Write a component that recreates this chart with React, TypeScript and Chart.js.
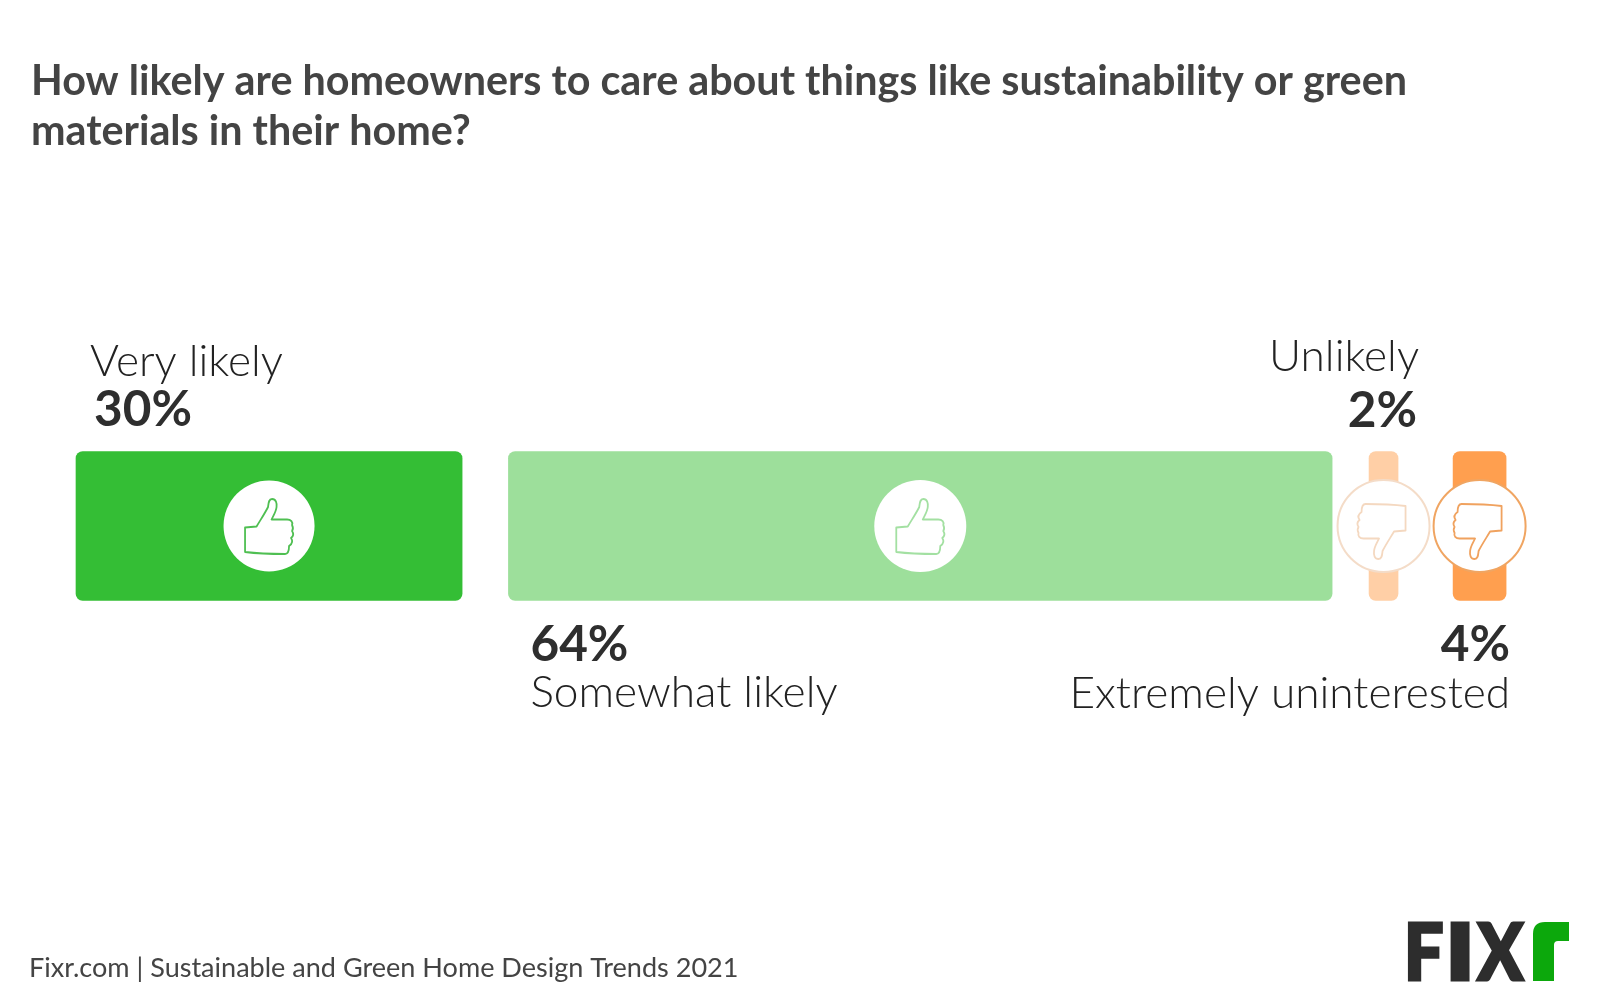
import React, { useEffect, useRef } from "react";
import { Chart, registerables } from "chart.js";

Chart.register(...registerables);

const titleLines = [
  "How likely are homeowners to care about things like sustainability or green",
  "materials in their home?",
];
const categories = ["Very likely", "Somewhat likely", "Unlikely", "Extremely uninterested"];
const values = [30, 64, 2, 4];
const gapsBefore = [0, 3.6, 2.87, 4.53];
const barColors = ["#34BE35", "#9DDF9B", "#FFCFA6", "#FF9F4F"];
const minLengths = [0, 0, 29, 53];
const iconColors = ["#4FBF52", "#A3E0A2", "#F4D8C0", "#F0A25F"];
const ringColors = [null, null, "#F4DCC8", "#F0A562"];
const footer = "Fixr.com | Sustainable and Green Home Design Trends 2021";
const logoLetters: [string, number, number][] = [
  ["F", 1407, 1443],
  ["I", 1450, 1470],
  ["X", 1475, 1525],
];

const FONT = "Lato, sans-serif";
const INK = "#2E2E2E";

const thumb =
  "M-24 1.5 L-12.5 0.5 C-8 -7 -4 -13 -1 -19 C-0.5 -23 -0.5 -27 3 -27 C7 -27 8 -23 7.5 -19 C7 -14 4 -10 2.5 -6.5 L18 -6.5 C22 -6.5 24 -4 23 -1 C24 1 24.5 3 23 5 C25 8 24.5 10 22 12 C24 15 23 18 20 20 C20 24 19 28 16 28 C5 28 -12 27.5 -24 26 Z";

const spans: [number, number][] = [];
values.forEach((v, i) => {
  const start = (i === 0 ? 0 : spans[i - 1][1]) + gapsBefore[i];
  spans.push([start, start + v]);
});

const overlay = {
  id: "overlay",
  afterDatasetsDraw(chart: any) {
    const ctx = chart.ctx as CanvasRenderingContext2D;
    const text = (s: string, x: number, y: number, font: string, color: string, align: CanvasTextAlign = "left") => {
      ctx.font = font;
      ctx.fillStyle = color;
      ctx.textAlign = align;
      ctx.textBaseline = "alphabetic";
      ctx.fillText(s, x, y);
    };
    ctx.save();
    // title and footer
    text(titleLines[0], 31, 94.5, `700 41.3px ${FONT}`, "#444444");
    text(titleLines[1], 31, 144.5, `700 41.3px ${FONT}`, "#444444");
    text(footer, 29, 977, `400 27.05px ${FONT}`, "#444444");

    // medallions
    const bars = values.map((_, i) => chart.getDatasetMeta(i).data[0]);
    bars.forEach((b: any, i: number) => {
      const cx = (b.x + b.base) / 2;
      const cy = b.y;
      ctx.beginPath();
      ctx.arc(cx, cy, i === 0 ? 45.5 : 46, 0, Math.PI * 2);
      ctx.fillStyle = "#FFFFFF";
      ctx.fill();
      const ring = ringColors[i];
      if (ring) {
        ctx.strokeStyle = ring;
        ctx.lineWidth = 2;
        ctx.stroke();
      }
      ctx.save();
      ctx.translate(cx - (i >= 2 ? 2 : 0), cy + (i >= 2 ? 6 : 0));
      if (i >= 2) ctx.rotate(Math.PI);
      ctx.strokeStyle = iconColors[i];
      ctx.lineWidth = 1.8;
      ctx.lineJoin = "round";
      ctx.stroke(new Path2D(thumb));
      ctx.restore();
    });

    // labels
    const [a, b2, c, d] = bars as any[];
    const light = `300 44.2px ${FONT}`;
    const bold = `700 49.5px ${FONT}`;
    text(categories[0], a.base + 14, 376, light, "#222222");
    text(values[0] + "%", a.base + 18, 426, bold, INK);
    text(categories[2], c.x + 21, 371, light, "#222222", "right");
    text(values[2] + "%", c.x + 19, 427, bold, INK, "right");
    text(values[1] + "%", b2.base + 22, 661, bold, INK);
    text(categories[1], b2.base + 22, 707, light, "#222222");
    text(values[3] + "%", d.x + 4, 661, bold, INK, "right");
    text(categories[3], d.x + 4, 708, light, "#222222", "right");

    // logo
    logoLetters.forEach(([ch, x0, x1]) => {
      ctx.save();
      ctx.font = `900 76px ${FONT}`;
      ctx.textAlign = "left";
      const m = ctx.measureText(ch);
      const w = m.actualBoundingBoxRight + m.actualBoundingBoxLeft;
      const h = m.actualBoundingBoxAscent + m.actualBoundingBoxDescent;
      const sx = (x1 - x0 - 3) / w;
      const sy = (59 - 3) / h;
      ctx.translate(x0 + 1.5 + m.actualBoundingBoxLeft * sx, 979.5);
      ctx.scale(sx, sy);
      ctx.fillStyle = "#2D2D2D";
      ctx.strokeStyle = "#2D2D2D";
      ctx.lineWidth = 3;
      ctx.lineJoin = "miter";
      ctx.strokeText(ch, 0, 0);
      ctx.fillText(ch, 0, 0);
      ctx.restore();
    });
    ctx.fillStyle = "#0CA80C";
    ctx.beginPath();
    ctx.moveTo(1533, 981);
    ctx.lineTo(1533, 934);
    ctx.quadraticCurveTo(1533, 922, 1545, 922);
    ctx.lineTo(1569, 922);
    ctx.lineTo(1569, 941);
    ctx.lineTo(1558, 941);
    ctx.quadraticCurveTo(1554, 941, 1554, 945);
    ctx.lineTo(1554, 981);
    ctx.closePath();
    ctx.fill();
    ctx.restore();
  },
};

export default function App() {
  const ref = useRef<HTMLCanvasElement>(null);
  useEffect(() => {
    const chart = new Chart(ref.current!, {
      type: "bar",
      data: {
        labels: [""],
        datasets: categories.map((label, i) => ({
          label,
          data: [spans[i]],
          backgroundColor: barColors[i],
          borderRadius: 7,
          borderSkipped: false,
          grouped: false,
          barThickness: 149,
          minBarLength: minLengths[i] || undefined,
        })),
      } as any,
      options: {
        indexAxis: "y",
        responsive: false,
        animation: false,
        layout: { padding: { top: 52 } },
        scales: {
          x: { display: false, min: -76 / 12.87, max: (1600 - 76) / 12.87 },
          y: { display: false },
        },
        plugins: { legend: { display: false }, tooltip: { enabled: false }, title: { display: false } },
      } as any,
      plugins: [overlay],
    });
    return () => chart.destroy();
  }, []);
  return (
    <canvas
      ref={ref}
      width={1600}
      height={1000}
      style={{ position: "absolute", left: 0, top: 0, width: 1600, height: 1000, background: "#fff" }}
    />
  );
}
